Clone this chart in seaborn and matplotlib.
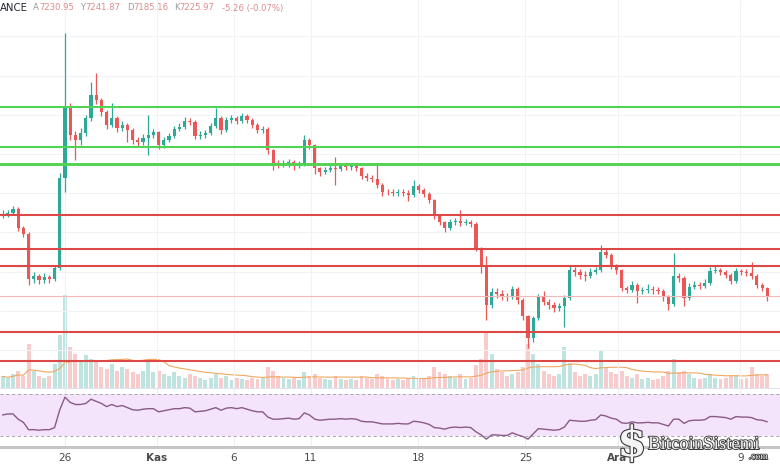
import pandas as pd
import numpy as np
import matplotlib
matplotlib.use("Agg")
import matplotlib.pyplot as plt
import matplotlib.patheffects as pe
import seaborn as sns

# 8h-ish candles (price in USDT)
first_open = 8220
closes = [8235, 8248, 8299, 8057, 7980, 7407, 7445, 7394, 7432, 7407,
          7547, 8695, 9600, 9243, 9179, 9269, 9460, 9753, 9690, 9536,
          9371, 9460, 9332, 9371, 9307, 9179, 9154, 9205, 9243, 9281,
          9115, 9179, 9230, 9320, 9345, 9422, 9409, 9230, 9243, 9269,
          9358, 9460, 9307, 9434, 9460, 9422, 9485, 9434, 9371, 9307,
          9320, 9052, 8886, 8860, 8873, 8899, 8848, 8873, 9179, 9115,
          8822, 8771, 8797, 8822, 8809, 8848, 8835, 8848, 8822, 8720,
          8695, 8682, 8605, 8516, 8510, 8503, 8516, 8503, 8478, 8593,
          8542, 8491, 8414, 8210, 8133, 8057, 8133, 8146, 8120, 8133,
          8108, 7802, 7572, 7075, 7241, 7215, 7190, 7177, 7279, 7139,
          6934, 6654, 6909, 7177, 7113, 7075, 7037, 7062, 7164, 7521,
          7496, 7457, 7445, 7496, 7521, 7751, 7713, 7572, 7521, 7292,
          7266, 7330, 7253, 7266, 7279, 7266, 7253, 7177, 7088, 7445,
          7419, 7164, 7304, 7330, 7317, 7355, 7508, 7521, 7496, 7457,
          7381, 7508, 7496, 7483, 7445, 7330, 7292, 7190]
highs = [8290, 8290, 8340, 8320, 8080, 8000, 7490, 7470, 7480, 7460,
         7580, 8760, 10540, 9650, 9300, 9330, 9500, 9920, 10030, 9720,
         9560, 9650, 9490, 9420, 9400, 9330, 9220, 9250, 9500, 9320,
         9300, 9220, 9270, 9360, 9390, 9470, 9460, 9430, 9290, 9310,
         9390, 9590, 9480, 9470, 9500, 9490, 9530, 9510, 9460, 9400,
         9360, 9340, 9070, 8920, 8920, 8940, 8920, 8910, 9240, 9200,
         9130, 8840, 8840, 8870, 8960, 8890, 8880, 8880, 8870, 8840,
         8760, 8730, 8860, 8630, 8560, 8550, 8560, 8550, 8540, 8670,
         8620, 8570, 8510, 8430, 8240, 8150, 8170, 8190, 8290, 8170,
         8160, 8130, 7820, 7700, 7290, 7290, 7260, 7230, 7320, 7300,
         7160, 6950, 6940, 7220, 7250, 7150, 7110, 7100, 7200, 7570,
         7560, 7530, 7510, 7550, 7560, 7840, 7790, 7740, 7600, 7540,
         7320, 7380, 7360, 7310, 7340, 7320, 7300, 7280, 7200, 7740,
         7480, 7440, 7350, 7380, 7370, 7400, 7560, 7570, 7550, 7520,
         7480, 7550, 7540, 7530, 7620, 7470, 7360, 7310]
lows = [8190, 8200, 8230, 8020, 7940, 7330, 7350, 7340, 7360, 7350,
        7380, 7520, 8520, 9180, 8925, 9120, 9230, 9420, 9640, 9490,
        9320, 9340, 9280, 9300, 9150, 9130, 9100, 9120, 8990, 9200,
        9070, 9080, 9150, 9200, 9290, 9320, 9370, 9190, 9190, 9210,
        9240, 9330, 9260, 9280, 9400, 9380, 9390, 9400, 9330, 9270,
        9270, 9000, 8800, 8820, 8830, 8840, 8800, 8820, 8850, 9070,
        8740, 8720, 8740, 8770, 8605, 8780, 8800, 8800, 8790, 8680,
        8650, 8640, 8570, 8470, 8480, 8460, 8470, 8460, 8400, 8450,
        8500, 8450, 8380, 8170, 8090, 8010, 8030, 8100, 8080, 8090,
        8070, 7760, 7480, 6880, 7040, 7170, 7140, 7130, 7150, 7090,
        6880, 6520, 6600, 6880, 7070, 7030, 6990, 7000, 6800, 7140,
        7450, 7400, 7380, 7420, 7470, 7500, 7680, 7530, 7470, 7250,
        7230, 7240, 7100, 7220, 7230, 7220, 7210, 7130, 7010, 7060,
        7370, 7060, 7140, 7280, 7280, 7290, 7330, 7480, 7460, 7420,
        7340, 7360, 7460, 7440, 7410, 7290, 7250, 7130]
volumes = [12, 10, 14, 18, 12, 45, 18, 12, 10, 12,
           25, 55, 96, 42, 35, 28, 34, 30, 28, 22,
           20, 25, 18, 22, 20, 16, 14, 18, 28, 16,
           18, 14, 12, 16, 12, 10, 14, 12, 10, 8,
           10, 14, 10, 12, 8, 10, 9, 8, 10, 9,
           10, 22, 18, 12, 10, 9, 10, 8, 16, 12,
           14, 10, 9, 8, 12, 9, 8, 9, 8, 12,
           10, 9, 14, 12, 9, 8, 9, 8, 10, 12,
           9, 10, 12, 22, 16, 14, 12, 10, 14, 9,
           10, 24, 30, 58, 35, 20, 16, 12, 14, 16,
           22, 45, 35, 25, 18, 14, 12, 14, 42, 26,
           16, 12, 14, 12, 14, 38, 22, 16, 14, 18,
           12, 10, 14, 9, 10, 8, 9, 12, 18, 30,
           16, 18, 14, 10, 9, 10, 14, 10, 9, 10,
           12, 12, 9, 10, 22, 14, 12, 14]
rsi = [50, 51, 51, 46, 43, 36, 36, 35.5, 36, 36,
       38, 55, 67, 62, 60, 60, 61, 65, 63, 61,
       58, 60, 58, 59, 57, 55, 54.5, 55.5, 56, 56,
       53, 54, 55, 56, 56, 57, 56.5, 53, 53.5, 54,
       55.5, 57, 54.5, 56.5, 57, 56, 57, 55.5, 54, 53,
       53, 48, 46, 46, 46.5, 47, 46, 46.5, 52, 50,
       46, 45, 45.5, 46, 46, 46.5, 46, 46.5, 46, 44,
       43.5, 43.5, 42.5, 41.5, 41.5, 41.5, 42, 41.5, 41.5, 44,
       43.5, 42.5, 41, 38, 37.5, 36.5, 38, 38.5, 38, 38.5,
       38, 34, 31, 27, 31, 31, 30.5, 30.5, 33, 31,
       29.5, 27, 32, 37, 36.5, 36, 35.5, 36, 38.5, 45,
       44.5, 44, 44, 45, 45.5, 50, 49, 47, 46, 42.5,
       42, 43.5, 42.5, 42.5, 43, 42.5, 42.5, 41, 39.5, 46,
       46, 42, 44.5, 45, 45, 45.5, 48.5, 48.5, 48, 47.5,
       46, 48.5, 48, 48, 47.5, 45.5, 45, 43.5]

green_levels = [9604, 9094, 8869]
red_levels = [8222, 7786, 7576, 6734, 6360]

tick_dates = ["2019-10-26", "2019-11-01", "2019-11-06", "2019-11-11",
              "2019-11-18", "2019-11-25", "2019-12-01", "2019-12-09"]
tick_labels = ["26", "Kas", "6", "11", "18", "25", "Ara", "9"]
month_labels = ["Kas", "Ara"]

header_items = [("A", "7230.95"), ("Y", "7241.87"), ("D", "7185.16"), ("K", "7225.97")]
header_change = "-5.26 (-0.07%)"

times = pd.date_range("2019-10-21 22:30", periods=len(closes), freq="488min")
df = pd.DataFrame({"time": times, "close": closes, "high": highs, "low": lows,
                   "volume": volumes, "rsi": rsi})
df["open"] = [first_open] + closes[:-1]
df["up"] = df["close"] >= df["open"]
df["vol_ma"] = df["volume"].rolling(20, min_periods=1).mean()

up_c, down_c = "#2ea897", "#ea5757"
colors = np.where(df["up"], up_c, down_c)

sns.set_theme(style="white")
plt.rcParams["font.family"] = ["DejaVu Sans"]

fig = plt.figure(figsize=(7.8, 4.7), dpi=100)
ax = fig.add_axes([0, 82 / 470, 1, 388 / 470])
ax_vol = ax.twinx()
ax_rsi = fig.add_axes([0, 23 / 470, 1, 59 / 470], sharex=ax)

xmin, xmax = pd.Timestamp("2019-10-21 18:30"), pd.Timestamp("2019-12-11 14:00")
slot = 488 / 1440

# volume
ax_vol.bar(df["time"], df["volume"], width=slot * 0.75, color=colors, alpha=0.3, linewidth=0)
sns.lineplot(x=df["time"], y=df["vol_ma"], ax=ax_vol, color="#f0a860", linewidth=0.8)
ax_vol.set_ylim(0, 400)
ax_vol.set_yticks([])
ax_vol.set_ylabel("")

ax.set_zorder(ax_vol.get_zorder() + 1)
ax.patch.set_visible(False)

# candles
ax.vlines(df["time"], df["low"], df["high"], colors=colors, linewidth=0.9)
body_lo = np.minimum(df["open"], df["close"])
body_h = np.maximum(np.abs(df["close"] - df["open"]), 8)
ax.bar(df["time"], body_h, bottom=body_lo, width=slot * 0.6, color=colors, linewidth=0)

for lv in green_levels:
    ax.axhline(lv, color="#52d352", linewidth=2.1 if lv == green_levels[-1] else 1.5)
for lv in red_levels:
    ax.axhline(lv, color="#dc4846", linewidth=1.5)
ax.axhline(closes[-1], color="#f3b9b9", linewidth=0.8)

ax.set_ylim(6016, 10965)
ax.set_xlim(xmin, xmax)
ax.set_yticks(range(6500, 11000, 500))
ax.set_xticks(pd.to_datetime(tick_dates))
ax.tick_params(length=0, labelleft=False, labelbottom=False)
ax.grid(True, color="#f0f2f6", linewidth=0.8)
for s in ax.spines.values():
    s.set_visible(False)
for s in ax_vol.spines.values():
    s.set_visible(False)

# RSI
ax_rsi.axhspan(30, 70, color="#f3e4fb", linewidth=0)
for lv in (70, 30):
    ax_rsi.axhline(lv, color="#a3a3ad", linewidth=0.7, linestyle=(0, (3, 3)))
sns.lineplot(x=df["time"], y=df["rsi"], ax=ax_rsi, color="#8a5a86", linewidth=1.0)
ax_rsi.set_ylim(19.5, 75.7)
ax_rsi.set_yticks([])
ax_rsi.set_ylabel("")
ax_rsi.set_xlabel("")
ax_rsi.set_xticks(pd.to_datetime(tick_dates))
ax_rsi.set_xticklabels(tick_labels)
ax_rsi.tick_params(axis="x", length=0, pad=4, labelsize=7.5, labelcolor="#4a4a4a")
for lab in ax_rsi.get_xticklabels():
    if lab.get_text() in month_labels:
        lab.set_fontweight("bold")
ax_rsi.grid(True, axis="x", color="#eceef2", linewidth=0.8)
for side in ("left", "right"):
    ax_rsi.spines[side].set_visible(False)
ax_rsi.spines["top"].set_color("#e0e3eb")
ax_rsi.spines["top"].set_linewidth(0.8)
ax_rsi.spines["bottom"].set_color("#c6c6c6")
ax_rsi.spines["bottom"].set_linewidth(2.2)

# header
hy = 1 - 8 / 470
fig.text(0.0, hy, "ANCE", fontsize=7.3, color="#232630", va="center")
hx = [33, 80, 127, 174]
offs = {"A": 5.9, "Y": 5.3, "D": 6.6, "K": 5.6}
for (lt, val), x0 in zip(header_items, hx):
    fig.text(x0 / 780, hy, lt, fontsize=6.1, color="#9a9a9a", va="center")
    fig.text((x0 + offs[lt]) / 780, hy, val, fontsize=6.1, color="#de8a8a", va="center")
fig.text(222 / 780, hy, header_change, fontsize=6.1, color="#de8a8a", va="center")

# watermark logo
fig.text(632 / 780, 1 - 444 / 470, "$", fontsize=30, fontweight="bold", family="DejaVu Serif",
         color="#f4f4f4", ha="center", va="center",
         path_effects=[pe.withStroke(linewidth=1.6, foreground="#3a3a3a")])
fig.text(648 / 780, 1 - 449 / 470, "BitcoinSistemi", fontsize=13.5, family="Liberation Serif",
         color="#f4f4f4", ha="left", va="baseline",
         path_effects=[pe.withStroke(linewidth=1.3, foreground="#3a3a3a")])
fig.text(768 / 780, 1 - 459 / 470, ".com", fontsize=7, family="Liberation Serif",
         color="#f4f4f4", ha="right", va="baseline",
         path_effects=[pe.withStroke(linewidth=1.1, foreground="#3a3a3a")])

fig.savefig("out.png", dpi=100, facecolor="white")
